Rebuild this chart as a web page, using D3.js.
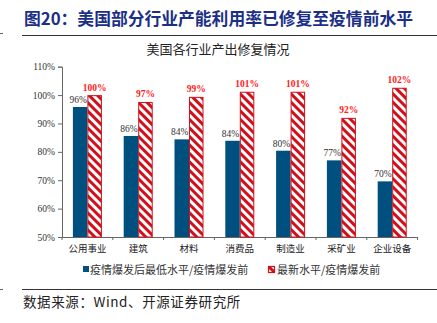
<!DOCTYPE html>
<html>
<head>
<meta charset="utf-8">
<script src="https://cdn.jsdelivr.net/npm/d3@7"></script>
<style>
  html, body { margin: 0; padding: 0; background: #fff; }
  svg { display: block; }
</style>
</head>
<body>
<svg id="chart" width="437" height="323"></svg>
<script>
// Industry categories and ratios (% of pre-pandemic level)
const categories = ["公用事业", "建筑", "材料", "消费品", "制造业", "采矿业", "企业设备"];
const lowValues = [95.8, 85.6, 84.4, 83.9, 80.4, 77.0, 69.6];
const latestValues = [99.8, 97.4, 99.2, 101.0, 101.0, 91.8, 102.4];
const seriesNames = ["疫情爆发后最低水平/疫情爆发前", "最新水平/疫情爆发前"];
const yTicks = [50, 60, 70, 80, 90, 100, 110];

const svg = d3.select("#chart");
const serif = "'Liberation Serif', 'Noto Sans CJK SC', serif";
const cjk = "'Noto Sans CJK SC', sans-serif";
const blue = "#00507f";
const red = "#d0101a";

// Hatch pattern for the latest-level bars
const defs = svg.append("defs");
const pat = defs.append("pattern")
  .attr("id", "hatch")
  .attr("patternUnits", "userSpaceOnUse")
  .attr("width", 6).attr("height", 6)
  .attr("patternTransform", "rotate(-45)");
pat.append("rect").attr("width", 6).attr("height", 6).attr("fill", "#fff");
pat.append("rect").attr("x", 0).attr("width", 3).attr("height", 6).attr("fill", red);

// Header
svg.append("text")
  .attr("x", 24).attr("y", 25)
  .attr("font-family", cjk).attr("font-weight", "bold")
  .attr("font-size", 16.8).attr("fill", "#1b2f86")
  .text("图20：美国部分行业产能利用率已修复至疫情前水平");
svg.append("line").attr("x1", 22).attr("x2", 437).attr("y1", 35.5).attr("y2", 35.5)
  .attr("stroke", "#333").attr("stroke-width", 1);
svg.append("line").attr("x1", 0).attr("x2", 3).attr("y1", 33.5).attr("y2", 33.5)
  .attr("stroke", "#666").attr("stroke-width", 1);

// Chart title
svg.append("text")
  .attr("x", 218).attr("y", 54).attr("text-anchor", "middle")
  .attr("font-family", cjk).attr("font-size", 13).attr("fill", "#222")
  .text("美国各行业产出修复情况");

const x = d3.scaleBand().domain(categories).range([62, 417.6]).paddingInner(0).paddingOuter(0);
const y = d3.scaleLinear().domain([50, 110]).range([237, 66.7]);
const barW = 14.5;

// Y axis
const yAxis = svg.append("g").attr("transform", "translate(62,0)")
  .call(d3.axisLeft(y).tickValues(yTicks).tickSize(4).tickFormat(d => d + "%"));
yAxis.selectAll("text").attr("font-family", serif).attr("font-size", 9.5).attr("fill", "#333");
yAxis.selectAll("line, path").attr("stroke", "#666");

// X axis
const xAxis = svg.append("g").attr("transform", "translate(0,237)")
  .call(d3.axisBottom(x).tickSize(0).tickPadding(8));
xAxis.selectAll("text").attr("font-family", cjk).attr("font-size", 9.5).attr("fill", "#222");
xAxis.select("path").attr("stroke", "#666");
xAxis.selectAll(".div-tick").data(d3.range(categories.length + 1)).enter()
  .append("line").attr("class", "div-tick")
  .attr("x1", i => 62 + i * x.bandwidth()).attr("x2", i => 62 + i * x.bandwidth())
  .attr("y1", 0).attr("y2", 3).attr("stroke", "#666");

const cx = c => x(c) + x.bandwidth() / 2;

// Low-level bars
svg.append("g").selectAll("rect").data(categories).enter().append("rect")
  .attr("x", c => cx(c) - barW)
  .attr("y", (c, i) => y(lowValues[i]))
  .attr("width", barW)
  .attr("height", (c, i) => y(50) - y(lowValues[i]))
  .attr("fill", blue);

// Latest-level bars
svg.append("g").selectAll("rect").data(categories).enter().append("rect")
  .attr("x", c => cx(c) + 0.5)
  .attr("y", (c, i) => y(latestValues[i]))
  .attr("width", barW - 1)
  .attr("height", (c, i) => y(50) - y(latestValues[i]))
  .attr("fill", "url(#hatch)")
  .attr("stroke", red).attr("stroke-width", 1);

// Value labels
svg.append("g").selectAll("text").data(categories).enter().append("text")
  .attr("x", c => cx(c) - barW / 2 - 2)
  .attr("y", (c, i) => y(lowValues[i]) - 4)
  .attr("text-anchor", "middle")
  .attr("font-family", serif).attr("font-size", 9.5).attr("fill", "#333")
  .text((c, i) => Math.round(lowValues[i]) + "%");
svg.append("g").selectAll("text").data(categories).enter().append("text")
  .attr("x", c => cx(c) + barW / 2)
  .attr("y", (c, i) => y(latestValues[i]) - 5)
  .attr("text-anchor", "middle")
  .attr("font-family", serif).attr("font-weight", "bold").attr("font-size", 9.5).attr("fill", "#ff2020")
  .text((c, i) => Math.round(latestValues[i]) + "%");

// Legend
const legend = svg.append("g");
legend.append("rect").attr("x", 83).attr("y", 266).attr("width", 6).attr("height", 6).attr("fill", blue);
legend.append("text").attr("x", 90).attr("y", 273.5)
  .attr("font-family", cjk).attr("font-size", 11).attr("fill", "#333").text(seriesNames[0]);
legend.append("rect").attr("x", 268.5).attr("y", 266.5).attr("width", 6).attr("height", 6)
  .attr("fill", "url(#hatch)").attr("stroke", red).attr("stroke-width", 1.2);
legend.append("text").attr("x", 277).attr("y", 273.5)
  .attr("font-family", cjk).attr("font-size", 11).attr("fill", "#333").text(seriesNames[1]);

// Footer
svg.append("line").attr("x1", 22).attr("x2", 437).attr("y1", 289.5).attr("y2", 289.5)
  .attr("stroke", "#333").attr("stroke-width", 1);
svg.append("line").attr("x1", 0).attr("x2", 3).attr("y1", 289.5).attr("y2", 289.5)
  .attr("stroke", "#666").attr("stroke-width", 1);
svg.append("text").attr("x", 23).attr("y", 307)
  .attr("font-family", cjk).attr("font-size", 13.5).attr("letter-spacing", 0.6).attr("fill", "#222")
  .text("数据来源：Wind、开源证券研究所");
</script>
</body>
</html>
